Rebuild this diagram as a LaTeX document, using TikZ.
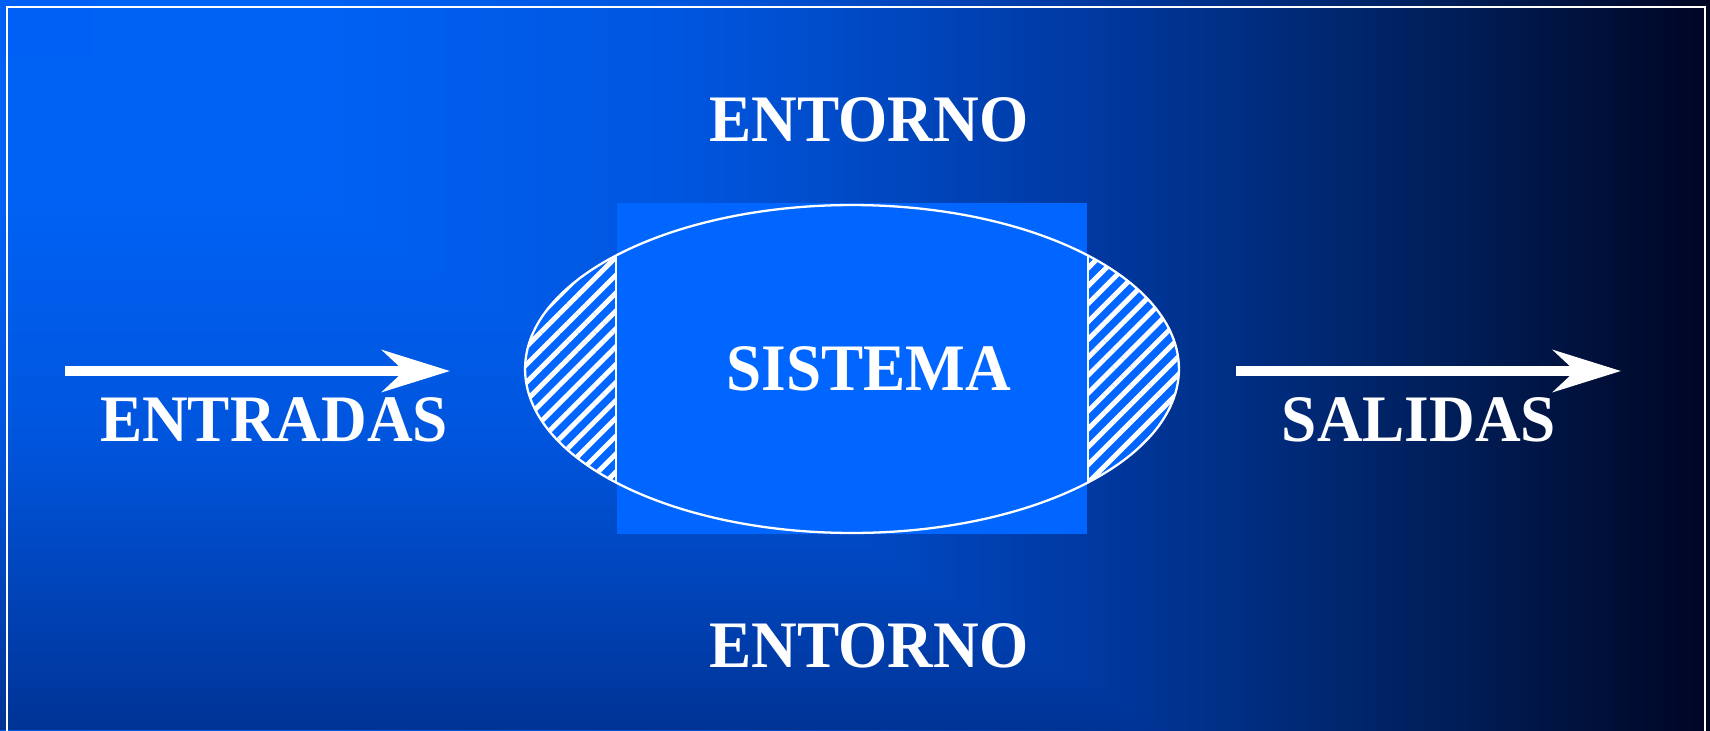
\documentclass[tikz,border=0pt]{standalone}
\usepackage{fontspec}
\setmainfont{Liberation Serif}
\usetikzlibrary{arrows.meta,patterns.meta}
\definecolor{sysblue}{RGB}{0,102,255}
\pgfdeclarehorizontalshading{bgh}{100bp}{rgb(0bp)=(0,0.376,0.961); rgb(25bp)=(0,0.376,0.961); rgb(33.77bp)=(0,0.384,0.961); rgb(45.47bp)=(0,0.333,0.867); rgb(57.16bp)=(0,0.22,0.627); rgb(67.4bp)=(0,0.118,0.345); rgb(75bp)=(0,0.02,0.137); rgb(100bp)=(0,0.02,0.137)}
\pgfdeclareverticalshading{bgv}{100bp}{rgb(0bp)=(0,0.2,0.576); rgb(25bp)=(0,0.2,0.576); rgb(27.74bp)=(0,0.22,0.627); rgb(44.93bp)=(0,0.333,0.867); rgb(62.12bp)=(0,0.384,0.961); rgb(75bp)=(0,0.376,0.961); rgb(100bp)=(0,0.376,0.961)}
\tikzset{
  lbl/.style={text=white, font=\bfseries\fontsize{36}{41}\selectfont, inner sep=0pt},
  bigarrow/.style={white, line width=5.67pt, -{Stealth[length=38.6pt,width=23.8pt,inset=12.5pt]}},
  frameline/.style={white, line width=1.2pt},
  sysline/.style={white, line width=1.3pt}
}
\begin{document}
\begin{tikzpicture}[x=0.02cm,y=-0.02cm]
\useasboundingbox (0,0) rectangle (1710,730);
% background
\shade[shading=bgh] (0,0) rectangle (1710,730);
\begin{scope}
  \clip (0,0) -- (1164,730) -- (0,730) -- cycle;
  \shade[shading=bgv] (0,0) rectangle (1710,730);
\end{scope}
% frame
\draw[frameline] (7,745) -- (7,7) -- (1705,7) -- (1705,745);
% system ellipse with hatching
\fill[sysblue] (852,369) ellipse [x radius=6.54cm, y radius=3.28cm];
\fill[pattern={Lines[angle=45,distance=7.2pt,line width=2.8pt]}, pattern color=white] (852,369) ellipse [x radius=6.54cm, y radius=3.28cm];
\fill[sysblue] (617,203) rectangle (1087,534);
\begin{scope}
  \clip (852,369) ellipse [x radius=6.54cm, y radius=3.28cm];
  \draw[sysline] (616,150) -- (616,600);
  \draw[sysline] (1088,150) -- (1088,600);
\end{scope}
\draw[sysline] (852,369) ellipse [x radius=6.54cm, y radius=3.28cm];
% labels
\node[lbl] (top) at (869,120) {\scalebox{1}[1.05]{ENTORNO}};
\node[lbl] (bot) at (869,646) {\scalebox{1}[1.05]{ENTORNO}};
\node[lbl] (sys) at (869,369) {\scalebox{1}[1.05]{SISTEMA}};
\node[lbl] (ent) at (274,420) {\scalebox{1}[1.05]{ENTRADAS}};
\node[lbl] (sal) at (1419,420) {\scalebox{1}[1.05]{SALIDAS}};
% arrows
\coordinate (inA) at (65,371);
\coordinate (inB) at (450,371);
\coordinate (outA) at (1236,371);
\coordinate (outB) at (1621,371);
\draw[bigarrow] (inA) -- (inB);
\draw[bigarrow] (outA) -- (outB);
\end{tikzpicture}
\end{document}
